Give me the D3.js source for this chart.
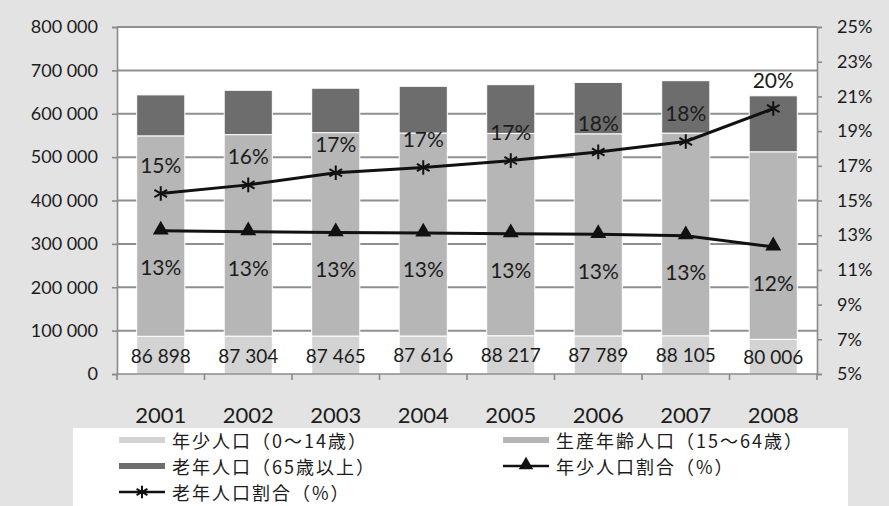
<!DOCTYPE html>
<html>
<head>
<meta charset="utf-8">
<script src="https://cdn.jsdelivr.net/npm/d3@7"></script>
<style>
  html, body { margin: 0; padding: 0; background: #e3e3e3; }
  svg { display: block; }
</style>
</head>
<body>
<svg id="chart" width="889" height="506"></svg>
<script>
// Population by age group, 2001–2008
const years = ["2001", "2002", "2003", "2004", "2005", "2006", "2007", "2008"];
const youngPop = [86898, 87304, 87465, 87616, 88217, 87789, 88105, 80006];
const workingPop = [462100, 464600, 469000, 468000, 466500, 466000, 467300, 432300];
const elderlyPop = [94500, 102200, 102400, 107700, 112300, 118500, 120800, 129100];
const youngRatio = [13.25, 13.2, 13.15, 13.13, 13.09, 13.05, 12.97, 12.33];
const elderlyRatio = [15.4, 15.9, 16.6, 16.9, 17.3, 17.8, 18.4, 20.3];
const leftTicks = [0, 100000, 200000, 300000, 400000, 500000, 600000, 700000, 800000];
const rightTicks = [5, 7, 9, 11, 13, 15, 17, 19, 21, 23, 25];
const seriesNames = ["年少人口（0〜14歳）", "生産年齢人口（15〜64歳）", "老年人口（65歳以上）", "年少人口割合（%）", "老年人口割合（%）"];

const numFont = "Lato, 'Open Sans', sans-serif";
const jpFont = "'Noto Sans CJK JP', sans-serif";
const textColor = "#1c1c1c";
const colors = { young: "#d3d3d3", working: "#b6b6b6", elderly: "#6d6d6d" };

const svg = d3.select("#chart");
const plot = { left: 117, right: 817, top: 27, bottom: 374 };

const x = d3.scaleBand().domain(years).range([plot.left, plot.right])
  .paddingInner(0.45).paddingOuter(0.225);
const yL = d3.scaleLinear().domain([0, 800000]).range([plot.bottom, plot.top]);
const yR = d3.scaleLinear().domain([5, 25]).range([plot.bottom, plot.top]);
const cx = d => x(d) + x.bandwidth() / 2;

const spaceFmt = d3.formatLocale({ decimal: ".", thousands: " ", grouping: [3], currency: ["", ""] }).format(",d");

// plot background
svg.append("rect")
  .attr("x", plot.left).attr("y", plot.top)
  .attr("width", plot.right - plot.left).attr("height", plot.bottom - plot.top)
  .attr("fill", "#ffffff");

// horizontal gridlines
svg.append("g").selectAll("line").data(leftTicks.slice(1)).join("line")
  .attr("x1", plot.left).attr("x2", plot.right)
  .attr("y1", d => yL(d)).attr("y2", d => yL(d))
  .attr("stroke", "#8f8f8f").attr("stroke-width", 2);

// stacked bars
const rows = years.map((yr, i) => ({ yr, young: youngPop[i], working: workingPop[i], elderly: elderlyPop[i] }));
const stack = d3.stack().keys(["young", "working", "elderly"])(rows);
svg.append("g").selectAll("g").data(stack).join("g")
  .attr("fill", s => colors[s.key])
  .selectAll("rect").data(s => s).join("rect")
  .attr("x", d => x(d.data.yr))
  .attr("width", x.bandwidth())
  .attr("y", d => yL(d[1]))
  .attr("height", d => yL(d[0]) - yL(d[1]))
  .attr("stroke", "#ffffff").attr("stroke-width", 1);

// left axis
const axL = svg.append("g").attr("transform", `translate(${plot.left},0)`)
  .call(d3.axisLeft(yL).tickValues(leftTicks).tickFormat(spaceFmt).tickSize(5).tickPadding(14));
// right axis
const axR = svg.append("g").attr("transform", `translate(${plot.right},0)`)
  .call(d3.axisRight(yR).tickValues(rightTicks).tickFormat(d => d + "%").tickSize(5).tickPadding(15));
// bottom axis
const axB = svg.append("g").attr("transform", `translate(0,${plot.bottom})`)
  .call(d3.axisBottom(x).tickSize(0).tickPadding(33));
for (const ax of [axL, axR, axB]) {
  ax.select(".domain").attr("stroke", "#8a8a8a").attr("stroke-width", 1.6);
  ax.selectAll(".tick line").attr("stroke", "#8a8a8a").attr("stroke-width", 1.6);
  ax.selectAll("text").attr("fill", textColor).attr("font-family", numFont);
}
axL.selectAll("text").attr("font-size", 18);
axR.selectAll("text").attr("font-size", 18);
axB.selectAll("text").attr("font-size", 22);
axB.select(".domain").attr("d", `M${plot.left},0H${plot.right}`);

// category boundary ticks on the bottom axis
const gap = (x.step() - x.bandwidth()) / 2;
const bounds = years.map(d => x(d) - gap).concat([x(years[years.length - 1]) + x.bandwidth() + gap]);
svg.append("g").selectAll("line").data(bounds).join("line")
  .attr("x1", d => d).attr("x2", d => d)
  .attr("y1", plot.bottom).attr("y2", plot.bottom + 6)
  .attr("stroke", "#8a8a8a").attr("stroke-width", 1.6);

// young population value labels
svg.append("g").selectAll("text").data(rows).join("text")
  .attr("x", d => cx(d.yr))
  .attr("y", d => (yL(0) + yL(d.young)) / 2)
  .attr("text-anchor", "middle").attr("dominant-baseline", "central")
  .attr("font-family", numFont).attr("font-size", 19).attr("fill", textColor)
  .text(d => spaceFmt(d.young));

// ratio lines
const line = d3.line().x(d => cx(d.yr)).y(d => yR(d.v));
const youngPts = years.map((yr, i) => ({ yr, v: youngRatio[i] }));
const elderlyPts = years.map((yr, i) => ({ yr, v: elderlyRatio[i] }));

svg.append("path").datum(youngPts).attr("d", line)
  .attr("fill", "none").attr("stroke", "#111").attr("stroke-width", 3);
svg.append("path").datum(elderlyPts).attr("d", line)
  .attr("fill", "none").attr("stroke", "#111").attr("stroke-width", 3);

const tri = d3.symbol(d3.symbolTriangle, 110);
const star = d3.symbol(d3.symbolAsterisk, 150);
svg.append("g").selectAll("path").data(youngPts).join("path")
  .attr("transform", d => `translate(${cx(d.yr)},${yR(d.v) - 1})`)
  .attr("d", tri).attr("fill", "#111");
svg.append("g").selectAll("path").data(elderlyPts).join("path")
  .attr("transform", d => `translate(${cx(d.yr)},${yR(d.v)})`)
  .attr("d", star).attr("fill", "none").attr("stroke", "#111").attr("stroke-width", 2);

// ratio labels
const pctFmt = v => Math.round(v) + "%";
svg.append("g").selectAll("text").data(youngPts).join("text")
  .attr("x", d => cx(d.yr)).attr("y", d => yR(d.v) + 36)
  .attr("text-anchor", "middle").attr("dominant-baseline", "central")
  .attr("font-family", numFont).attr("font-size", 21).attr("fill", textColor)
  .text(d => pctFmt(d.v));
svg.append("g").selectAll("text").data(elderlyPts).join("text")
  .attr("x", d => cx(d.yr)).attr("y", d => yR(d.v) - 29)
  .attr("text-anchor", "middle").attr("dominant-baseline", "central")
  .attr("font-family", numFont).attr("font-size", 21).attr("fill", textColor)
  .text(d => pctFmt(d.v));

// legend
svg.append("rect").attr("x", 73).attr("y", 428).attr("width", 775).attr("height", 90).attr("fill", "#ffffff");
const legendItems = [
  { name: seriesNames[0], type: "bar", color: colors.young, col: 0, row: 0 },
  { name: seriesNames[1], type: "bar", color: colors.working, col: 1, row: 0 },
  { name: seriesNames[2], type: "bar", color: colors.elderly, col: 0, row: 1 },
  { name: seriesNames[3], type: "tri", col: 1, row: 1 },
  { name: seriesNames[4], type: "star", col: 0, row: 2 }
];
const colX = [119, 503];
const rowY = [440, 466, 492];
const lg = svg.append("g").selectAll("g").data(legendItems).join("g")
  .attr("transform", d => `translate(${colX[d.col]},${rowY[d.row]})`);
lg.filter(d => d.type === "bar").append("rect")
  .attr("x", 0).attr("y", -3).attr("width", 46).attr("height", 6).attr("fill", d => d.color);
lg.filter(d => d.type !== "bar").append("line")
  .attr("x1", 0).attr("x2", 46).attr("y1", 0).attr("y2", 0)
  .attr("stroke", "#111").attr("stroke-width", 2.5);
lg.filter(d => d.type === "tri").append("path")
  .attr("transform", "translate(23,-1)").attr("d", d3.symbol(d3.symbolTriangle, 90)).attr("fill", "#111");
lg.filter(d => d.type === "star").append("path")
  .attr("transform", "translate(23,0)").attr("d", d3.symbol(d3.symbolAsterisk, 110))
  .attr("fill", "none").attr("stroke", "#111").attr("stroke-width", 2);
lg.append("text")
  .attr("x", 53).attr("y", 0).attr("dominant-baseline", "central")
  .attr("font-family", jpFont).attr("font-size", 18).attr("letter-spacing", 2)
  .attr("fill", textColor)
  .text(d => d.name);
</script>
</body>
</html>
